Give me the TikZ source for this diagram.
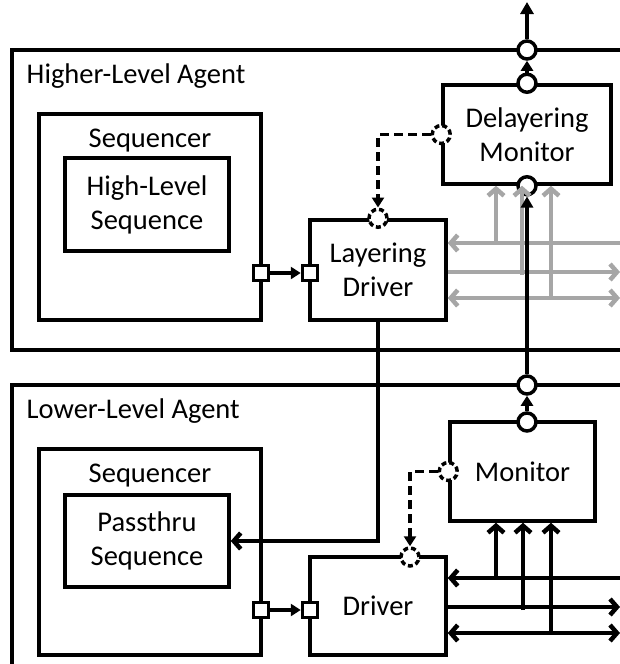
\documentclass[tikz,border=0pt]{standalone}
\usepackage{fontspec}
\setmainfont{Carlito}
\usetikzlibrary{arrows.meta,calc}

\begin{document}
\begin{tikzpicture}[
  x=1pt, y=-1pt,
  font=\fontsize{28.5}{34}\selectfont,
  line width=3.5pt,
  >={Straight Barb[length=7pt,width=16pt]},
  blk/.style ={draw, line width=3.5pt, inner sep=0pt, align=center},
  sock/.style={circle, draw, line width=3.5pt, fill=white, minimum size=18pt, inner sep=0pt},
  dsock/.style={sock, dash pattern=on 5pt off 3pt},
  prt/.style ={draw, line width=3.5pt, fill=white, minimum size=15pt, inner sep=0pt},
  lbl/.style ={inner sep=0pt},
  tip/.style ={-{Triangle[length=10pt,width=12pt]}, line width=3.5pt},
  bus/.style ={line width=4.5pt},
  gbus/.style={bus, black!35},
  dsh/.style ={-{Triangle[length=10pt,width=12pt]}, line width=3.5pt, dash pattern=on 9pt off 5pt}
]
\useasboundingbox (0,0) rectangle (620,664);

% =============== higher-level agent ===============
\draw (620,50) -- (12,50) -- (12,350) -- (620,350);
\node[lbl, anchor=base west] (hiA) at (25,83) {Higher-Level Agent};

\node[blk, minimum width=222pt, minimum height=206pt] (seqH) at (150,217) {};
\node[lbl, anchor=base] (seqHt) at (150,147) {Sequencer};
\node[blk, minimum width=164pt, minimum height=93pt] (hls) at (147,204.5) {High-Level\\Sequence};
\node[blk, minimum width=136pt, minimum height=100pt] (ldrv) at (378,270) {Layering\\Driver};
\node[blk, minimum width=168pt, minimum height=99pt] (dmon) at (527,134.5) {Delayering\\Monitor};

% sockets and ports
\node[sock]  (hOut)  at (527,50) {};
\node[sock]  (dmonT) at (dmon.north) {};
\node[sock]  (dmonB) at (dmon.south) {};
\node[dsock] (dmonW) at (dmon.west) {};
\node[dsock] (ldrvT) at (ldrv.north) {};
\node[prt]   (seqHp) at (261,273) {};
\node[prt]   (ldrvp) at (310,273) {};
\coordinate (top) at (527,2);

% =============== lower-level agent ===============
\draw (620,385) -- (12,385) -- (12,664);
\node[lbl, anchor=base west] (loA) at (25,418) {Lower-Level Agent};

\node[blk, minimum width=222pt, minimum height=206pt] (seqL) at (150,552) {};
\node[lbl, anchor=base] (seqLt) at (150,482) {Sequencer};
\node[blk, minimum width=164pt, minimum height=92pt] (pts) at (147,541) {Passthru\\Sequence};
\node[blk, minimum width=136pt, minimum height=98pt] (drv) at (378,606) {Driver};
\node[blk, minimum width=145pt, minimum height=99pt] (mon) at (522.5,471.5) {Monitor};

\node[sock]  (lOut)  at (527,385) {};
\node[sock]  (monT)  at (527,422) {};
\node[dsock] (monW)  at (mon.west) {};
\node[dsock] (drvT)  at (410,557) {};
\node[prt]   (seqLp) at (261,610) {};
\node[prt]   (drvp)  at (310,610) {};

% gray bus of the layering driver, tapped by the delayering monitor
\coordinate (g1) at (620,243);
\coordinate (g2) at (620,272);
\coordinate (g3) at (620,298);
\coordinate (gt1) at (496,243);
\coordinate (gt2) at (522,275);
\coordinate (gt3) at (551,298);
\draw[gbus, <-]  (ldrv.east |- g1) -- (g1);
\draw[gbus, ->]  (ldrv.east |- g2) -- (g2);
\draw[gbus, <->] (ldrv.east |- g3) -- (g3);
\draw[gbus, ->] (gt1) -- (gt1 |- dmon.south);
\draw[gbus, ->] (gt2) -- (gt2 |- dmon.south);
\draw[gbus, ->] (gt3) -- (gt3 |- dmon.south);

% black bus of the driver, tapped by the monitor
\coordinate (b1) at (620,578);
\coordinate (b2) at (620,607);
\coordinate (b3) at (620,633);
\coordinate (bt1) at (496,578);
\coordinate (bt2) at (523,610);
\coordinate (bt3) at (551,633);
\draw[bus, <-]  (drv.east |- b1) -- (b1);
\draw[bus, ->]  (drv.east |- b2) -- (b2);
\draw[bus, <->] (drv.east |- b3) -- (b3);
\draw[bus, ->] (bt1) -- (bt1 |- mon.south);
\draw[bus, ->] (bt2) -- (bt2 |- mon.south);
\draw[bus, ->] (bt3) -- (bt3 |- mon.south);

% analysis path upwards
\draw[bus, -{Triangle[length=11pt,width=12pt]}] (lOut) -- (dmonB);
\draw[tip] (monT) -- (lOut);
\draw[tip] (dmonT) -- (hOut);
\draw[tip, -{Triangle[length=12pt,width=13pt]}] (hOut) -- (top);

% control and sequence paths
\draw[dsh] (dmonW) -| (ldrvT);
\draw[dsh] (monW) -| (drvT);
\draw[tip] (seqHp) -- (ldrvp);
\draw[tip] (seqLp) -- (drvp);
\draw[bus, ->] (ldrv.south) |- (pts.east);
\end{tikzpicture}
\end{document}
